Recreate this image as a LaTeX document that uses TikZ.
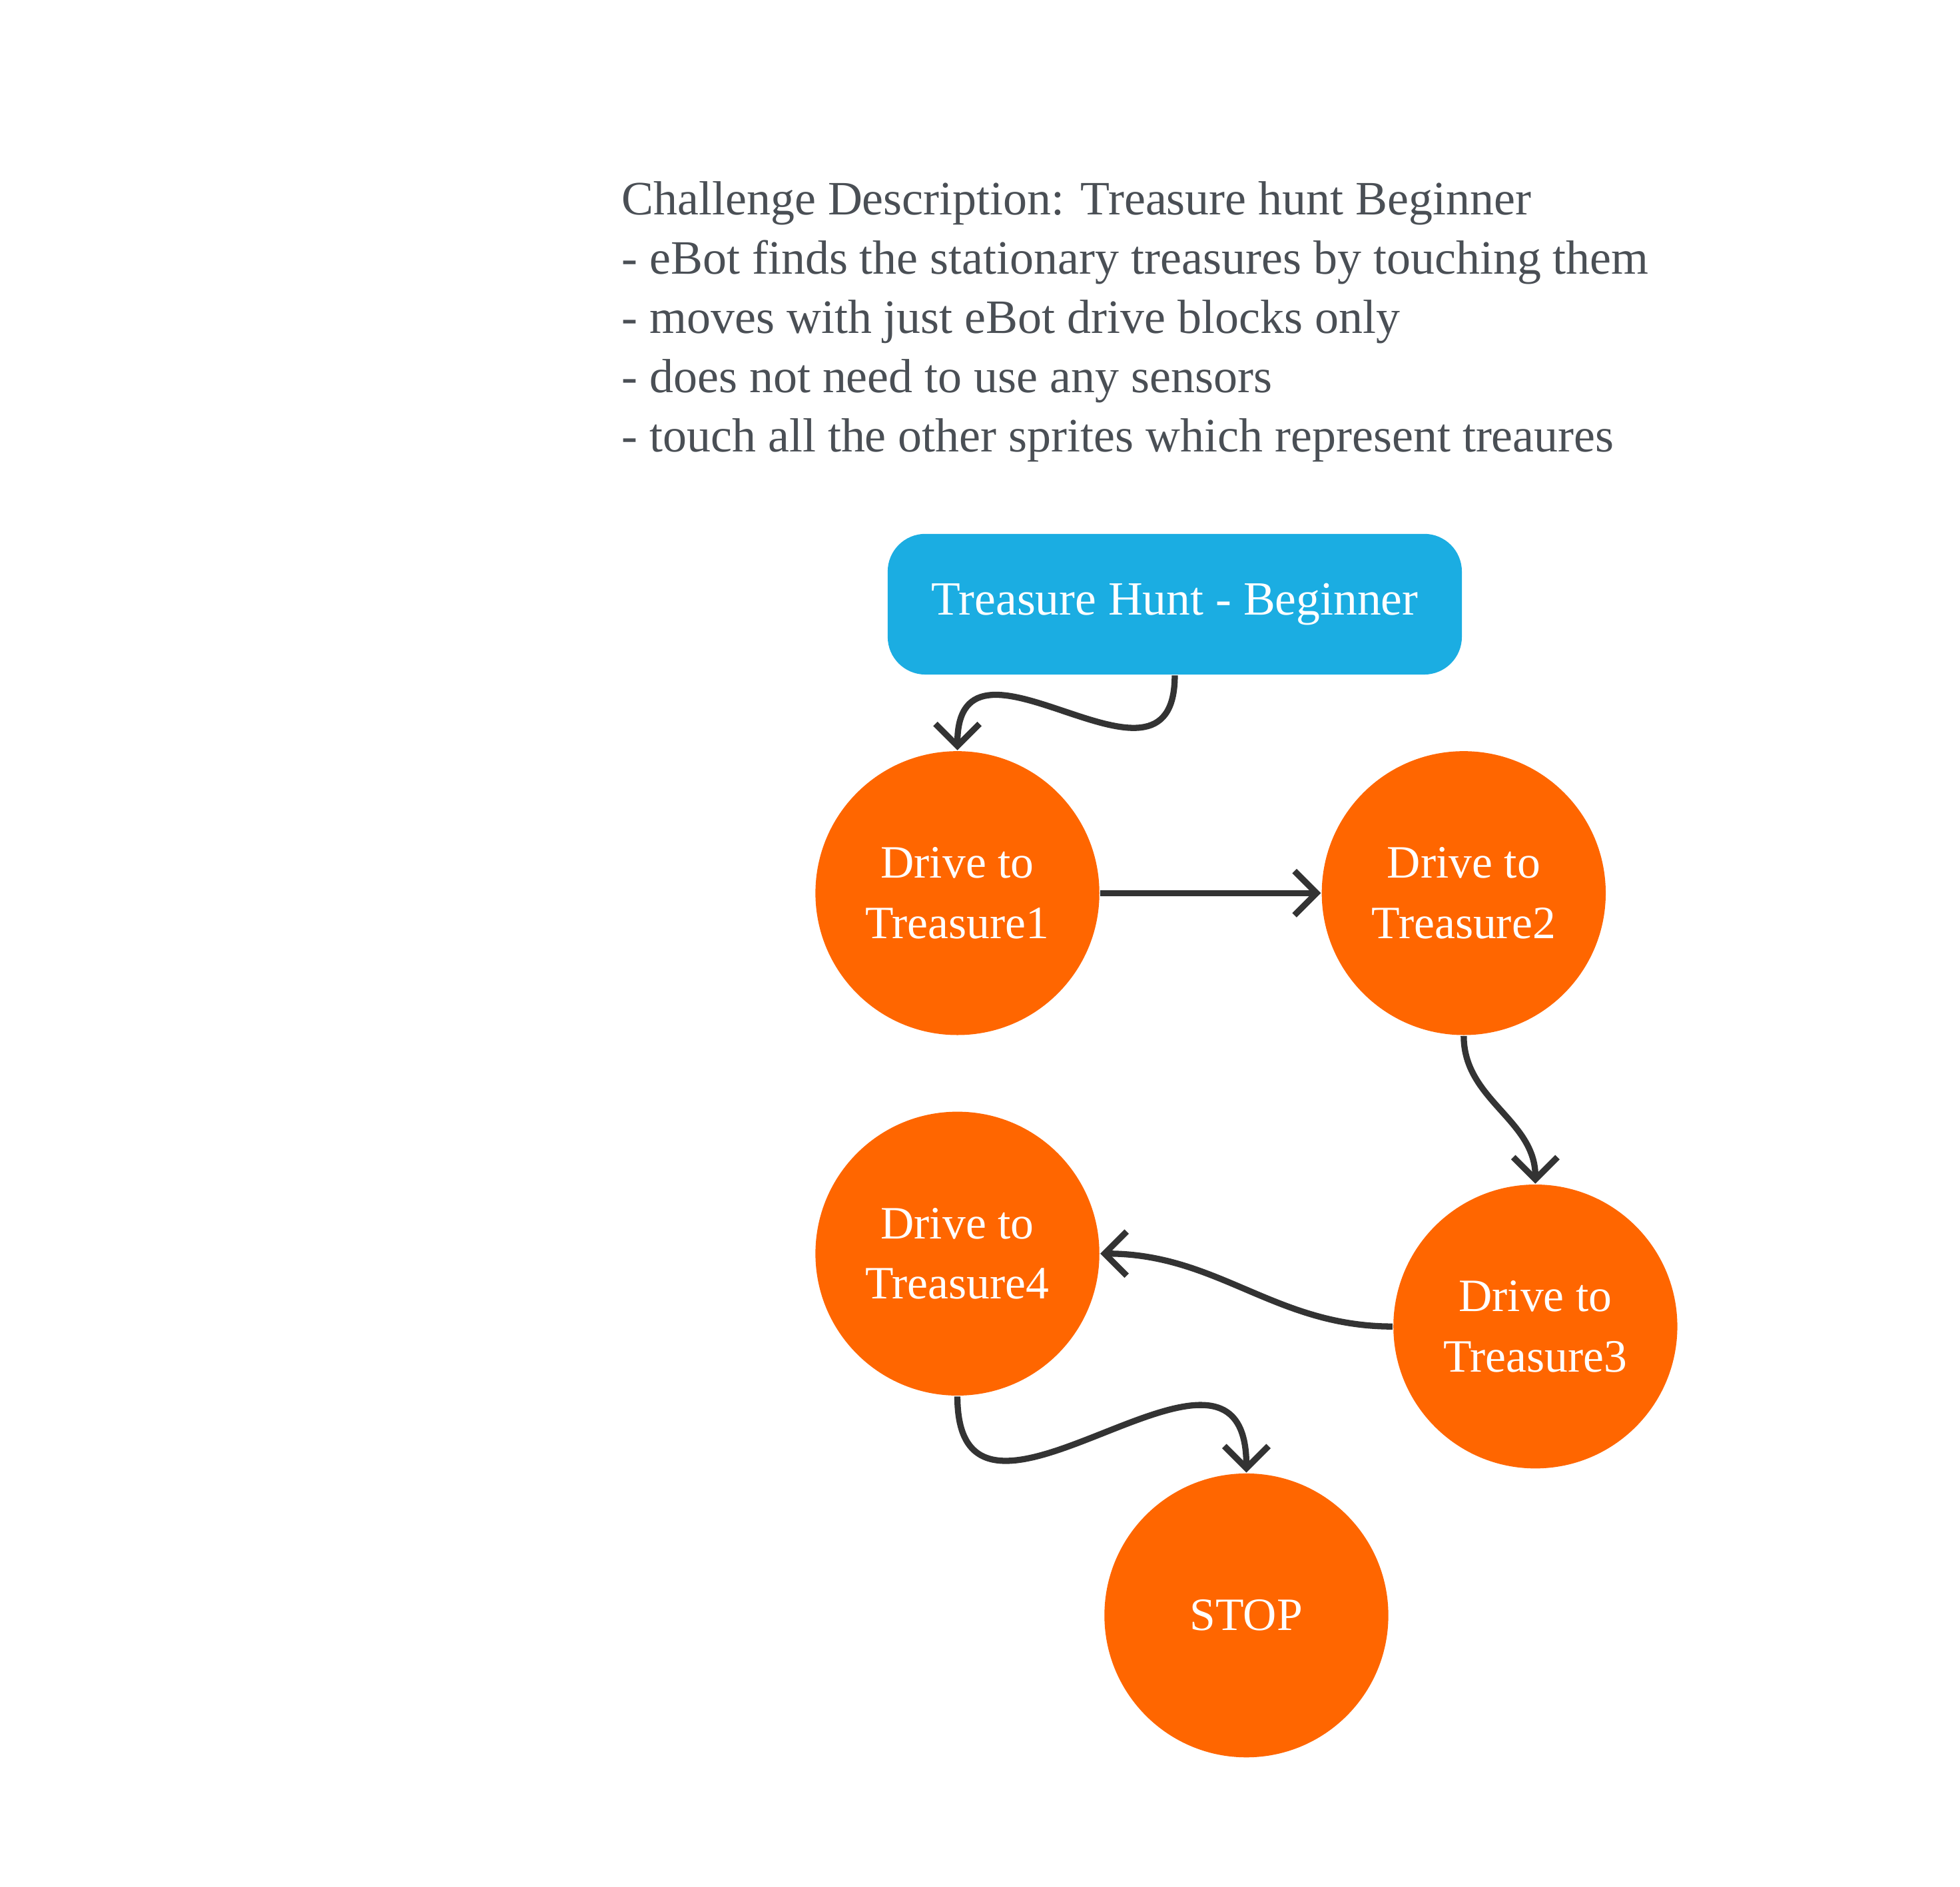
\documentclass[tikz,border=0pt]{standalone}
\usepackage{fontspec}
\setmainfont{Liberation Serif}
\usetikzlibrary{arrows.meta}
\definecolor{boxblue}{HTML}{1BADE2}
\definecolor{stateorange}{HTML}{FF6600}
\definecolor{linegray}{HTML}{333333}
\definecolor{textgray}{HTML}{4A4F55}
\tikzset{
  statenode/.style={circle, fill=stateorange, minimum size=2.26cm, inner sep=0pt,
    text=white, align=center, font=\fontsize{10.5}{13.6}\selectfont},
  flow/.style={draw=linegray, line width=1.4pt, -{Straight Barb[length=5pt,width=10pt]}}
}
\begin{document}
\begin{tikzpicture}
  \useasboundingbox (0,0) rectangle (15.6,-15.02);
  % description
  \node[anchor=north west, align=left, text=textgray, inner sep=0pt,
    font=\fontsize{10.85}{13.4}\selectfont] (desc) at (4.94,-1.44)
    {Challenge Description: Treasure hunt Beginner\\
     - eBot finds the stationary treasures by touching them\\
     - moves with just eBot drive blocks only\\
     - does not need to use any sensors\\
     - touch all the other sprites which represent treaures};
  % start box
  \node[fill=boxblue, rounded corners=0.3cm, minimum width=4.57cm, minimum height=1.12cm,
    text=white, font=\fontsize{10.8}{13.6}\selectfont] (start) at (9.35,-4.81) {Treasure Hunt - Beginner};
  % states
  \node[statenode] (t1) at (7.62,-7.11) {Drive to\\Treasure1};
  \node[statenode] (t2) at (11.65,-7.11) {Drive to\\Treasure2};
  \node[statenode] (t3) at (12.22,-10.56) {Drive to\\Treasure3};
  \node[statenode] (t4) at (7.62,-9.98) {Drive to\\Treasure4};
  \node[statenode] (stop) at (9.92,-12.86) {STOP};
  % connectors
  \draw[flow] (start.south) to[out=-90,in=90,looseness=1.6] (t1.north);
  \draw[flow] (t1.east) -- (t2.west);
  \draw[flow] (t2.south) to[out=-90,in=90] (t3.north);
  \draw[flow] (t3.west) to[out=180,in=0] (t4.east);
  \draw[flow] (t4.south) to[out=-90,in=90,looseness=1.6] (stop.north);
\end{tikzpicture}
\end{document}
